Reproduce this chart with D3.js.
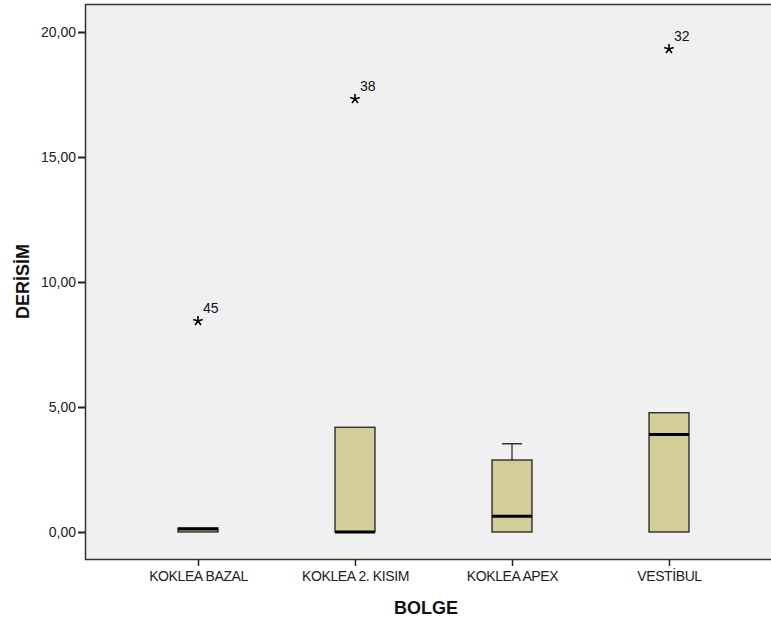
<!DOCTYPE html>
<html>
<head>
<meta charset="utf-8">
<script src="https://cdn.jsdelivr.net/npm/d3@7"></script>
<style>
  html, body { margin: 0; padding: 0; background: #fff; }
  svg { display: block; font-family: 'Liberation Sans', Arial, sans-serif; }
</style>
</head>
<body>
<div id="chart"></div>
<script>
const categories = ['KOKLEA BAZAL', 'KOKLEA 2. KISIM', 'KOKLEA APEX', 'VESTİBUL'];
const q1Values = [0, 0, 0, 0];
const medianValues = [0.12, 0, 0.63, 3.9];
const q3Values = [0.16, 4.19, 2.88, 4.77];
const whiskerLow = [0, 0, 0, 0];
const whiskerHigh = [0.16, 4.19, 3.53, 4.77];
const extremeCats = ['KOKLEA BAZAL', 'KOKLEA 2. KISIM', 'VESTİBUL'];
const extremeValues = [8.44, 17.32, 19.32];
const extremeLabels = ['45', '38', '32'];
const yTicks = [0, 5, 10, 15, 20];

const width = 771;
const height = 623;
const plot = { left: 85, top: 4, right: 771, bottom: 559 };

const svg = d3.select('#chart').append('svg')
  .attr('width', width)
  .attr('height', height);

const x = d3.scalePoint().domain(categories).range([198, 669]);
const y = d3.scaleLinear().domain([-1.08, 21.12]).range([plot.bottom, plot.top]);
const fmt = v => d3.format('.2f')(v).replace('.', ',');

// plot background
svg.append('rect')
  .attr('x', plot.left)
  .attr('y', plot.top)
  .attr('width', plot.right - plot.left)
  .attr('height', plot.bottom - plot.top)
  .attr('fill', '#f0f0f0');

// frame lines (left, top, bottom)
svg.append('path')
  .attr('d', `M${plot.right},${plot.top + 0.5}H${plot.left + 0.5}V${plot.bottom + 0.5}H${plot.right}`)
  .attr('fill', 'none')
  .attr('stroke', '#333')
  .attr('stroke-width', 1.5);

// y axis
const yAxis = svg.append('g')
  .attr('transform', `translate(${plot.left},0)`)
  .call(d3.axisLeft(y).tickValues(yTicks).tickFormat(fmt).tickSize(7).tickPadding(2));
yAxis.select('.domain').remove();
yAxis.selectAll('.tick line').attr('stroke', '#222').attr('stroke-width', 2);
yAxis.selectAll('.tick text').attr('font-size', 14).attr('fill', '#222')
  .attr('font-family', "'Liberation Sans', Arial, sans-serif");

// x axis
const xAxis = svg.append('g')
  .attr('transform', `translate(0,${plot.bottom})`)
  .call(d3.axisBottom(x).tickSize(7).tickPadding(5));
xAxis.select('.domain').remove();
xAxis.selectAll('.tick line').attr('stroke', '#222').attr('stroke-width', 1.5);
xAxis.selectAll('.tick text').attr('font-size', 14).attr('fill', '#222')
  .attr('font-family', "'Liberation Sans', Arial, sans-serif")
  .attr('letter-spacing', -0.4);

// boxes
const boxW = 40;
const boxes = categories.map((c, i) => ({
  cat: c, q1: q1Values[i], med: medianValues[i], q3: q3Values[i],
  lo: whiskerLow[i], hi: whiskerHigh[i]
}));

const g = svg.append('g');

g.selectAll('line.whisker')
  .data(boxes.filter(d => d.hi > d.q3))
  .join('line')
  .attr('x1', d => x(d.cat)).attr('x2', d => x(d.cat))
  .attr('y1', d => y(d.q3)).attr('y2', d => y(d.hi))
  .attr('stroke', '#222').attr('stroke-width', 1.2);

g.selectAll('line.cap')
  .data(boxes.filter(d => d.hi > d.q3))
  .join('line')
  .attr('x1', d => x(d.cat) - boxW / 4).attr('x2', d => x(d.cat) + boxW / 4)
  .attr('y1', d => y(d.hi)).attr('y2', d => y(d.hi))
  .attr('stroke', '#333').attr('stroke-width', 1.5);

g.selectAll('rect.box')
  .data(boxes)
  .join('rect')
  .attr('x', d => x(d.cat) - boxW / 2)
  .attr('y', d => y(d.q3))
  .attr('width', boxW)
  .attr('height', d => y(d.q1) - y(d.q3))
  .attr('fill', '#d3ce97')
  .attr('stroke', '#111')
  .attr('stroke-width', 1.2);

g.selectAll('line.median')
  .data(boxes)
  .join('line')
  .attr('x1', d => x(d.cat) - boxW / 2).attr('x2', d => x(d.cat) + boxW / 2)
  .attr('y1', d => y(d.med)).attr('y2', d => y(d.med))
  .attr('stroke', '#000').attr('stroke-width', 3);

// extreme values: star markers with case labels
const extremes = extremeCats.map((c, i) => ({ cat: c, v: extremeValues[i], label: extremeLabels[i] }));
const starPath = d3.range(5).map(k => {
  const a = -Math.PI / 2 + k * 2 * Math.PI / 5;
  return `M0,0L${(5 * Math.cos(a)).toFixed(2)},${(5 * Math.sin(a)).toFixed(2)}`;
}).join('');

const ex = g.selectAll('g.extreme')
  .data(extremes)
  .join('g')
  .attr('transform', d => `translate(${x(d.cat)},${y(d.v)})`);
ex.append('path')
  .attr('d', starPath)
  .attr('stroke', '#000')
  .attr('stroke-width', 1.6)
  .attr('fill', 'none');
ex.append('text')
  .attr('x', 5)
  .attr('y', -8)
  .attr('font-size', 14)
  .attr('fill', '#111')
  .text(d => d.label);

// axis titles
svg.append('text')
  .attr('x', (plot.left + plot.right) / 2 - 2)
  .attr('y', 614)
  .attr('text-anchor', 'middle')
  .attr('font-size', 18)
  .attr('font-weight', 'bold')
  .attr('fill', '#111')
  .text('BOLGE');

svg.append('text')
  .attr('transform', `translate(29,${(plot.top + plot.bottom) / 2}) rotate(-90)`)
  .attr('text-anchor', 'middle')
  .attr('font-size', 18)
  .attr('font-weight', 'bold')
  .attr('fill', '#111')
  .text('DERİSİM');
</script>
</body>
</html>
